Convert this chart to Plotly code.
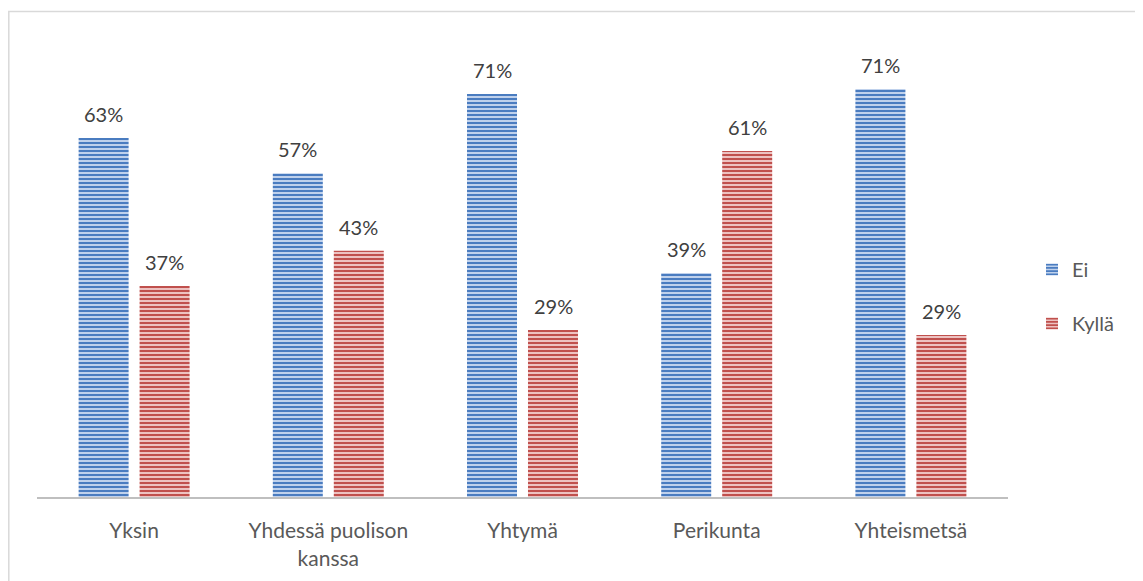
import plotly.graph_objects as go

categories = ["Yksin", "Yhdessä puolison<br>kanssa", "Yhtymä", "Perikunta", "Yhteismetsä"]
ei_values = [63.0, 56.8, 70.7, 39.3, 71.6]
kylla_values = [37.0, 43.2, 29.3, 60.7, 28.4]
ei_labels = ["63%", "57%", "71%", "39%", "71%"]
kylla_labels = ["37%", "43%", "29%", "61%", "29%"]

OFF = 8  # page body margin
W, H = 1143 - OFF, 581 - OFF
L, R, T, B = 37 - OFF, W - (1008 - OFF), 41 - OFF, H - (497 - OFF)
pw, ph = W - L - R, H - T - B
FONT = "Lato, sans-serif"
FS = 21

fig = go.Figure()
fig.add_trace(go.Bar(
    name="Ei", x=categories, y=ei_values, legendgroup="a",
    marker=dict(color="#A9C1E3", line=dict(width=0),
                pattern=dict(shape="-", fgcolor="#4A7CC0", bgcolor="#BFD1EC",
                             size=4, solidity=0.5, fgopacity=1)),
))
fig.add_trace(go.Bar(
    name="Kyllä", x=categories, y=kylla_values, legendgroup="b",
    marker=dict(color="#E3A9A8", line=dict(width=0),
                pattern=dict(shape="-", fgcolor="#C0504D", bgcolor="#EDC2C1",
                             size=4, solidity=0.5, fgopacity=1)),
))

annotations = []
for i, c in enumerate(categories):
    annotations.append(dict(x=c, y=ei_values[i], text=ei_labels[i], showarrow=False,
                            xref="x", yref="y", yanchor="bottom", yshift=10,
                            xshift=-30.5, font=dict(size=FS - 1, color="#404040", family=FONT)))
    annotations.append(dict(x=c, y=kylla_values[i], text=kylla_labels[i], showarrow=False,
                            xref="x", yref="y", yanchor="bottom", yshift=10,
                            xshift=30.5, font=dict(size=FS - 1, color="#404040", family=FONT)))

def px_x(p):
    return (p - OFF - L) / pw

def px_y(p):
    return (H - B - (p - OFF)) / ph

fig.update_layout(
    width=W, height=H,
    margin=dict(l=L, r=R, t=T, b=B, autoexpand=False),
    paper_bgcolor="white", plot_bgcolor="white",
    barmode="group", bargap=0.372, bargroupgap=0.18,
    font=dict(family=FONT, size=FS, color="#595959"),
    showlegend=True,
    legend=dict(x=1024 / W, y=1 - 288.5 / H, xref="container", yref="container",
                xanchor="left", yanchor="middle",
                tracegroupgap=25, itemwidth=30,
                font=dict(size=FS - 1, color="#595959", family=FONT),
                bgcolor="rgba(0,0,0,0)"),
    xaxis=dict(showline=True, linecolor="#BFBFBF", linewidth=2, showgrid=False,
               ticks="", ticklabelstandoff=14, zeroline=False, automargin=False,
               tickfont=dict(size=FS, color="#595959", family=FONT)),
    yaxis=dict(range=[0, 80], visible=False, showgrid=False, zeroline=False,
               automargin=False),
    annotations=annotations,
    shapes=[dict(type="rect", xref="paper", yref="paper",
                 x0=px_x(8.8), x1=px_x(1141.2), y0=px_y(600), y1=px_y(11.5),
                 line=dict(color="#D9D9D9", width=1.5), fillcolor="rgba(0,0,0,0)",
                 layer="below")],
)

fig.write_html("out.html")
